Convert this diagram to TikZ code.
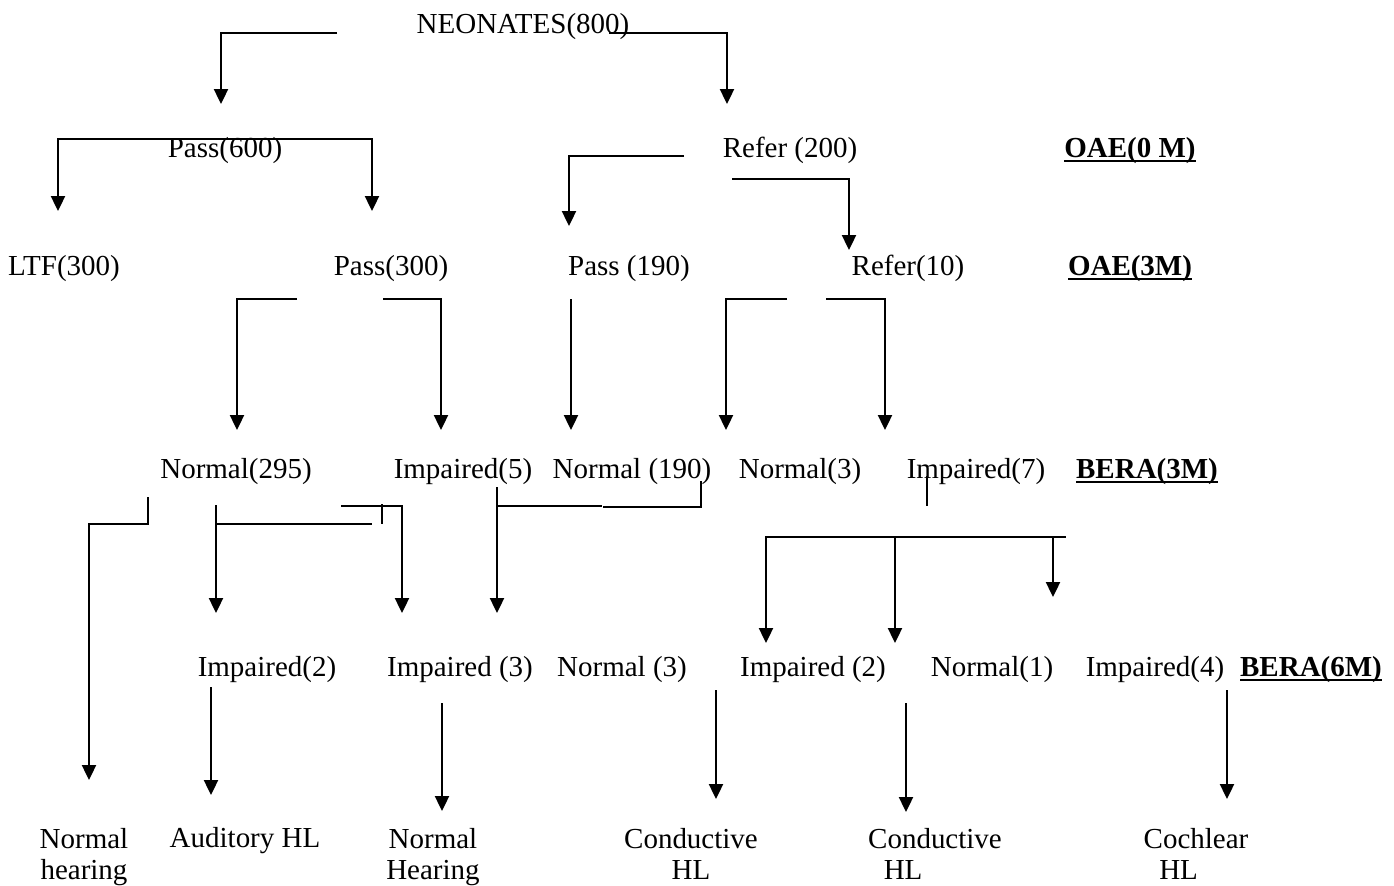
\documentclass[tikz,border=0pt]{standalone}
\usepackage{fontspec}
\setmainfont{Liberation Serif}
\usetikzlibrary{arrows.meta}
\newcommand{\ulbf}[1]{\setbox0\hbox{\bfseries #1}\rlap{\vrule width\wd0 height -1.7pt depth 2.9pt}\box0} % bold text with a heavy underline
\tikzset{
x=0.02cm, y=-0.02cm, % one unit is one pixel of the layout, y runs down
>={Triangle[length=8.5pt,width=8pt]}, % solid triangle heads
every node/.style={inner sep=0pt, font=\fontsize{16.5}{16.5}\selectfont}, % plain serif text
lbl/.style={anchor=base}, % one-line labels sit on their baseline
two/.style={anchor=north, align=center, font=\fontsize{16.5}{18}\selectfont}, % two-line labels at the bottom
exam/.style={anchor=base}, % names of the tests
link/.style={line width=1.1pt}, % connector lines
tick/.style={line width=0.7pt}, % the thin stubs
}

\begin{document}
\begin{tikzpicture}[link]
\useasboundingbox (0,0) rectangle (1394,886);

            \node[lbl] (neo) at (523,33) {NEONATES(800)};

            \node[lbl] (pass6) at (225,157) {Pass(600)};
            \node[lbl] (refer2) at (790,157) {Refer (200)};
            \node[exam] (oae0) at (1130,157) {\ulbf{OAE(0 M)}};

            \node[lbl] (ltf) at (64,275) {LTF(300)};
            \node[lbl] (pass3) at (391,275) {Pass(300)};
            \node[lbl] (pass19) at (629,275) {Pass (190)};
            \node[lbl] (refer1) at (908,275) {Refer(10)};
            \node[exam] (oae3) at (1130,275) {\ulbf{OAE(3M)}};

            \node[lbl] (norm295) at (236,478) {Normal(295)};
            \node[lbl] (imp5) at (463,478) {Impaired(5)};
            \node[lbl] (norm190) at (632,478) {Normal (190)};
            \node[lbl] (norm3) at (800,478) {Normal(3)};
            \node[lbl] (imp7) at (976,478) {Impaired(7)};
            \node[exam] (bera3) at (1147,478) {\ulbf{BERA(3M)}};

            \node[lbl] (imp2) at (267,676) {Impaired(2)};
            \node[lbl] (imp3) at (460,676) {Impaired (3)};
            \node[lbl] (normb3) at (622,676) {Normal (3)};
            \node[lbl] (imp2b) at (813,676) {Impaired (2)};
            \node[lbl] (norm1) at (992,676) {Normal(1)};
            \node[lbl] (imp4) at (1155,676) {Impaired(4)};
            \node[exam] (bera6) at (1311,676) {\ulbf{BERA(6M)}};

            \node[two] (nh) at (84,827) {Normal\\hearing};
            \node[lbl] (ahl) at (245,847) {Auditory HL};
            \node[two] (nh2) at (433,827) {Normal\\Hearing};
            \node[two] (cond1) at (691,827) {Conductive\\HL};
            \node[two] (cond2) at (935,827) {Conductive\\HL\hspace*{2.2em}};
            \node[two] (cochl) at (1196,827) {Cochlear\\HL\hspace*{1.2em}};

            % free ends of the connectors
            \coordinate (neoL) at (337,33);
            \coordinate (neoR) at (609,33);
            \coordinate (pass6in) at (221,104);
            \coordinate (refer2in) at (727,104);
            \coordinate (p6bar) at (215,139);
            \coordinate (ltfin) at (58,211);
            \coordinate (pass3in) at (372,211);
            \coordinate (r2L) at (684,156);
            \coordinate (r2R) at (732,179);
            \coordinate (pass19in) at (569,226);
            \coordinate (refer1in) at (849,250);
            \coordinate (p3L) at (297,299);
            \coordinate (p3R) at (383,299);
            \coordinate (p19) at (571,299);
            \coordinate (r1L) at (787,299);
            \coordinate (r1R) at (826,299);
            \coordinate (n295in) at (237,430);
            \coordinate (imp5in) at (441,430);
            \coordinate (n190in) at (571,430);
            \coordinate (n3in) at (726,430);
            \coordinate (imp7in) at (885,430);

            \coordinate (n295a) at (148,497);
            \coordinate (n295b) at (148,524);
            \coordinate (nhin) at (89,780);
            \coordinate (n295c) at (216,505);
            \coordinate (imp2in) at (216,613);
            \coordinate (barA) at (216,524);
            \coordinate (barB) at (372,524);
            \coordinate (tickT) at (382,504);
            \coordinate (tickB) at (382,524);
            \coordinate (n295d) at (341,506);
            \coordinate (imp3in) at (402,613);
            \coordinate (imp5a) at (497,487);
            \coordinate (imp5b) at (497,506);
            \coordinate (imp3in2) at (497,613);
            \coordinate (midA) at (602,506);
            \coordinate (midB) at (603,507);
            \coordinate (n190a) at (701,481);
            \coordinate (imp7a) at (927,476);
            \coordinate (imp7b) at (927,506);
            \coordinate (barC) at (1066,537);
            \coordinate (imp2bin) at (766,643);
            \coordinate (drop2) at (895,537);
            \coordinate (drop2in) at (895,643);
            \coordinate (drop3) at (1053,537);
            \coordinate (drop3in) at (1053,597);

            \coordinate (imp2a) at (211,687);
            \coordinate (ahlin) at (211,795);
            \coordinate (imp3a) at (442,703);
            \coordinate (nh2in) at (442,811);
            \coordinate (imp2ba) at (716,690);
            \coordinate (cond1in) at (716,799);
            \coordinate (norm1a) at (906,703);
            \coordinate (cond2in) at (906,812);
            \coordinate (imp4a) at (1227,690);
            \coordinate (cochlin) at (1227,799);

            \draw[->] (neoL) -| (pass6in);
            \draw[->] (neoR) -| (refer2in);
            \draw[<->] (ltfin) |- (p6bar) -| (pass3in);
            \draw[->] (r2L) -| (pass19in);
            \draw[->] (r2R) -| (refer1in);
            \draw[->] (p3L) -| (n295in);
            \draw[->] (p3R) -| (imp5in);
            \draw[->] (r1L) -| (n3in);
            \draw[->] (r1R) -| (imp7in);
            \draw[->] (n295a) -- (n295b) -| (nhin);
            \draw[->] (n295d) -| (imp3in);
            \draw (barA) -- (barB);
            \draw (imp5b) -- (midA);
            \draw (midB) -| (n190a);
            \draw[<-] (imp2bin) |- (barC);
            \draw[tick] (tickT) -- (tickB)
                        (imp7a) -- (imp7b);

            \draw   (p19) edge[->] (n190in)
                    (n295c) edge[->] (imp2in)
                    (imp5a) edge[->] (imp3in2)
                    (drop2) edge[->] (drop2in)
                    (drop3) edge[->] (drop3in)
                    (imp2a) edge[->] (ahlin)
                    (imp3a) edge[->] (nh2in)
                    (imp2ba) edge[->] (cond1in)
                    (norm1a) edge[->] (cond2in)
                    (imp4a) edge[->] (cochlin)
                    ;
        \end{tikzpicture}
\end{document}
